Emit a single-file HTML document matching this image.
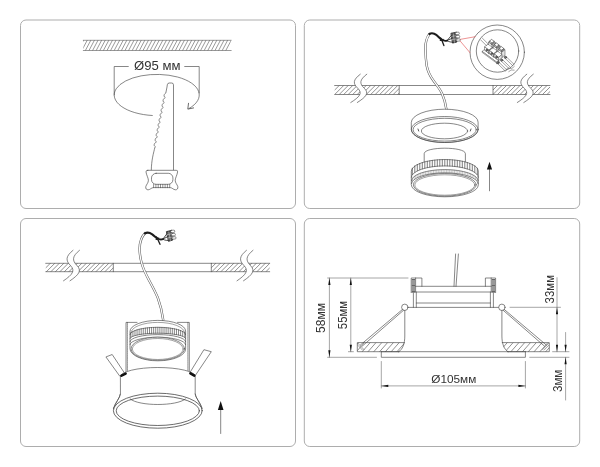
<!DOCTYPE html>
<html lang="ru"><head><meta charset="utf-8"><title>Схема монтажа</title>
<style>html,body{margin:0;padding:0;background:#fff}svg{display:block;will-change:transform}</style></head>
<body>
<svg width="600" height="467" viewBox="0 0 600 467">
<g fill="none" stroke="#adadad" stroke-width="1">
<rect x="20.5" y="20" width="275.0" height="188.5" rx="5.5" ry="5.5"/>
<rect x="304.3" y="20" width="275.40000000000003" height="188.5" rx="5.5" ry="5.5"/>
<rect x="20.5" y="218.5" width="275.0" height="228.0" rx="5.5" ry="5.5"/>
<rect x="304.3" y="218.5" width="275.40000000000003" height="228.0" rx="5.5" ry="5.5"/>
</g>
<defs>
<clipPath id="c1"><rect x="83.3" y="40.3" width="147.5" height="10.2"/></clipPath>
<clipPath id="c2a"><rect x="334.7" y="85.5" width="64.5" height="9"/></clipPath>
<clipPath id="c2b"><rect x="493" y="85.5" width="57" height="9"/></clipPath>
<clipPath id="c3a"><rect x="45.8" y="263.3" width="67.5" height="8.4"/></clipPath>
<clipPath id="c3b"><rect x="211.3" y="263.3" width="58.4" height="8.4"/></clipPath>
<clipPath id="c4a"><path d="M357.3,342.6H404.5C404,347 402,350 398.8,351.7H357.3Z"/></clipPath>
<clipPath id="c4b"><path d="M549.3,342.6H502.2C502.7,347 504.7,350 507.9,351.7H549.3Z"/></clipPath>
</defs>
<g fill="none" stroke="#464646" stroke-width="0.65" stroke-linecap="round" stroke-linejoin="round">
<path d="M83.3,40.3H231.2M83.3,50.5H231.2" stroke-width="0.6" stroke="#555"/>
<path clip-path="url(#c1)" d="M78.2,50.5L83.6,40.3M81.8,50.5L87.2,40.3M85.4,50.5L90.8,40.3M89.0,50.5L94.4,40.3M92.6,50.5L98.0,40.3M96.2,50.5L101.6,40.3M99.8,50.5L105.2,40.3M103.4,50.5L108.8,40.3M107.0,50.5L112.4,40.3M110.6,50.5L116.0,40.3M114.2,50.5L119.6,40.3M117.8,50.5L123.2,40.3M121.4,50.5L126.8,40.3M125.0,50.5L130.4,40.3M128.6,50.5L134.0,40.3M132.2,50.5L137.6,40.3M135.8,50.5L141.2,40.3M139.4,50.5L144.8,40.3M143.0,50.5L148.4,40.3M146.6,50.5L152.0,40.3M150.2,50.5L155.6,40.3M153.8,50.5L159.2,40.3M157.4,50.5L162.8,40.3M161.0,50.5L166.4,40.3M164.6,50.5L170.0,40.3M168.2,50.5L173.6,40.3M171.8,50.5L177.2,40.3M175.4,50.5L180.8,40.3M179.0,50.5L184.4,40.3M182.6,50.5L188.0,40.3M186.2,50.5L191.6,40.3M189.8,50.5L195.2,40.3M193.4,50.5L198.8,40.3M197.0,50.5L202.4,40.3M200.6,50.5L206.0,40.3M204.2,50.5L209.6,40.3M207.8,50.5L213.2,40.3M211.4,50.5L216.8,40.3M215.0,50.5L220.4,40.3M218.6,50.5L224.0,40.3M222.2,50.5L227.6,40.3M225.8,50.5L231.2,40.3" stroke-width="0.55"/>
<path d="M114.2,95V66.5H128.3M184.7,66.5H199.2V93"/>
<path d="M152.3,115.5A42.6,20.6 0 1 1 189.0,108.5"/>
<path d="M188.5,103.3L187.8,109.1L193.6,107.9" stroke-width="0.8"/>
<path fill="#fff" d="M173.5,170.3V84.8Q173.5,83 171.6,83H169.4Q167.5,83 167.3,84.8L167.0,87.0L165.8,93.0C163.9,94.2 163.3,96.3 165.3,97.5L164.8,97.9C162.9,99.1 162.3,101.3 164.3,102.5L163.8,102.9C161.9,104.1 161.3,106.2 163.3,107.4L162.8,107.8C160.9,109.0 160.3,111.1 162.3,112.3L161.8,112.7C159.9,113.9 159.3,116.0 161.3,117.2L160.8,117.6C158.9,118.8 158.3,121.0 160.3,122.2L159.8,122.6C157.9,123.8 157.4,125.9 159.4,127.1L158.9,127.5C157.0,128.7 156.4,130.8 158.4,132.0L157.9,132.4C156.0,133.6 155.4,135.7 157.4,136.9L156.9,137.3C155.0,138.5 154.4,140.7 156.4,141.9L155.9,142.3C154.0,143.5 153.4,145.6 155.4,146.8L154.9,147.2C153.6,153 151.4,160 151.3,170.3"/>
<path fill="#fff" d="M147.8,170.3H176.2Q177.9,170.3 177.6,171.9C177.1,175.2 175.5,177.4 175.2,180.2C175.2,183 177.2,184.4 177.8,186.6C178.2,188.7 177.1,189.9 175.4,189.8C173.2,189.6 172.4,187.8 170.3,187.6H153.3C151.2,187.8 150.4,189.6 148.2,189.8C146.5,189.9 145.4,188.7 145.8,186.6C146.4,184.4 148.4,183 148.4,180.2C148.1,177.4 146.5,175.2 146,171.9Q145.7,170.3 147.8,170.3Z"/>
<rect x="151.5" y="173.3" width="21.4" height="11" rx="4.6" ry="4.6"/>
<path d="M153.6,184.4V187.7M155.9,184.4V187.7M158.2,184.4V187.7M160.5,184.4V187.7M162.8,184.4V187.7M165.1,184.4V187.7M167.4,184.4V187.7M169.7,184.4V187.7" stroke-width="0.6"/>
<path d="M334.7,85.5H550M334.7,94.5H550M399.2,85.5V94.5M493,85.5V94.5"/>
<path clip-path="url(#c2a)" d="M325.7,94.5L334.7,85.5M330.2,94.5L339.2,85.5M334.7,94.5L343.7,85.5M339.2,94.5L348.2,85.5M343.7,94.5L352.7,85.5M348.2,94.5L357.2,85.5M352.7,94.5L361.7,85.5M357.2,94.5L366.2,85.5M361.7,94.5L370.7,85.5M366.2,94.5L375.2,85.5M370.7,94.5L379.7,85.5M375.2,94.5L384.2,85.5M379.7,94.5L388.7,85.5M384.2,94.5L393.2,85.5M388.7,94.5L397.7,85.5M393.2,94.5L402.2,85.5M397.7,94.5L406.7,85.5" stroke-width="0.6"/>
<path clip-path="url(#c2b)" d="M484.0,94.5L493.0,85.5M488.5,94.5L497.5,85.5M493.0,94.5L502.0,85.5M497.5,94.5L506.5,85.5M502.0,94.5L511.0,85.5M506.5,94.5L515.5,85.5M511.0,94.5L520.0,85.5M515.5,94.5L524.5,85.5M520.0,94.5L529.0,85.5M524.5,94.5L533.5,85.5M529.0,94.5L538.0,85.5M533.5,94.5L542.5,85.5M538.0,94.5L547.0,85.5M542.5,94.5L551.5,85.5M547.0,94.5L556.0,85.5" stroke-width="0.6"/>
<path d="M360.3,74.2C352.8,79.9 352.8,83.5 357.8,88.3C362.8,93.2 359.8,96.8 350.8,102.5L357.3,102.5C366.3,96.8 369.3,93.2 364.3,88.3C359.3,83.5 359.3,79.9 366.8,74.2Z" fill="#fff" stroke="none"/><path d="M360.3,74.2C352.8,79.9 352.8,83.5 357.8,88.3C362.8,93.2 359.8,96.8 350.8,102.5M366.8,74.2C359.3,79.9 359.3,83.5 364.3,88.3C369.3,93.2 366.3,96.8 357.3,102.5"/>
<path d="M526.8,74.2C519.3,79.9 519.3,83.5 524.3,88.3C529.3,93.2 526.3,96.8 517.3,102.5L523.8,102.5C532.8,96.8 535.8,93.2 530.8,88.3C525.8,83.5 525.8,79.9 533.3,74.2Z" fill="#fff" stroke="none"/><path d="M526.8,74.2C519.3,79.9 519.3,83.5 524.3,88.3C529.3,93.2 526.3,96.8 517.3,102.5M533.3,74.2C525.8,79.9 525.8,83.5 530.8,88.3C535.8,93.2 532.8,96.8 523.8,102.5"/>
<circle cx="497.2" cy="52.2" r="27.2" fill="#fff"/>
<circle cx="497.5" cy="51" r="21.2"/>
<path d="M459,39.6L475.3,36.7M459,39.6L470,52.7" stroke="#e35a5a" stroke-width="0.65"/>
<g stroke-width="0.5">
<path d="M480.6,39.8L486.4,45.6M482.4,38.2L488.4,44.2"/>
<path d="M486.4,45.6C487.6,46.6 489,45.6 488.4,44.2M487.6,45.4L492.6,47.6M486.4,46.4L489.4,49.6M488.6,44.6L495,46"/>
<path d="M482.40,51.60L497.04,62.43L499.07,60.83L484.44,50.01Z" fill="#fff"/><path d="M482.40,52.60L497.04,63.43L497.04,62.43L482.40,51.60Z" fill="#fff"/><path d="M497.04,63.43L499.07,61.83L499.07,60.83L497.04,62.43Z" fill="#e4e4e4"/>
<path d="M488.81,42.49L492.27,45.04L495.42,42.58L491.96,40.02Z" fill="#fff"/><path d="M488.81,47.89L492.27,50.44L492.27,45.04L488.81,42.49Z" fill="#fff"/><path d="M492.27,50.44L495.42,47.98L495.42,42.58L492.27,45.04Z" fill="#e4e4e4"/>
<path d="M489.66,41.35L492.06,43.13L494.28,41.39L491.88,39.61Z" fill="#fff"/><path d="M489.66,42.55L492.06,44.33L492.06,43.13L489.66,41.35Z" fill="#fff"/><path d="M492.06,44.33L494.28,42.59L494.28,41.39L492.06,43.13Z" fill="#999"/>
<path d="M484.82,47.09L488.95,50.14L492.46,47.39L488.33,44.33Z" fill="#fff"/><path d="M484.82,50.29L488.95,53.34L488.95,50.14L484.82,47.09Z" fill="#fff"/><path d="M488.95,53.34L492.46,50.59L492.46,47.39L488.95,50.14Z" fill="#e4e4e4"/>
<ellipse cx="486.88" cy="50.12" rx="1" ry="1.15" fill="#666" stroke="#333"/>
<path d="M493.61,46.04L497.07,48.59L500.22,46.13L496.76,43.57Z" fill="#fff"/><path d="M493.61,51.44L497.07,53.99L497.07,48.59L493.61,46.04Z" fill="#fff"/><path d="M497.07,53.99L500.22,51.53L500.22,46.13L497.07,48.59Z" fill="#e4e4e4"/>
<path d="M494.46,44.90L496.86,46.68L499.08,44.94L496.68,43.16Z" fill="#fff"/><path d="M494.46,46.10L496.86,47.88L496.86,46.68L494.46,44.90Z" fill="#fff"/><path d="M496.86,47.88L499.08,46.14L499.08,44.94L496.86,46.68Z" fill="#999"/>
<path d="M489.62,50.64L493.75,53.69L497.26,50.94L493.13,47.88Z" fill="#fff"/><path d="M489.62,53.84L493.75,56.89L493.75,53.69L489.62,50.64Z" fill="#fff"/><path d="M493.75,56.89L497.26,54.14L497.26,50.94L493.75,53.69Z" fill="#e4e4e4"/>
<ellipse cx="491.68" cy="53.67" rx="1" ry="1.15" fill="#666" stroke="#333"/>
<path d="M498.41,49.59L501.87,52.14L505.01,49.68L501.56,47.12Z" fill="#fff"/><path d="M498.41,54.99L501.87,57.54L501.87,52.14L498.41,49.59Z" fill="#fff"/><path d="M501.87,57.54L505.01,55.08L505.01,49.68L501.87,52.14Z" fill="#e4e4e4"/>
<path d="M499.26,48.45L501.66,50.23L503.88,48.49L501.48,46.71Z" fill="#fff"/><path d="M499.26,49.65L501.66,51.43L501.66,50.23L499.26,48.45Z" fill="#fff"/><path d="M501.66,51.43L503.88,49.69L503.88,48.49L501.66,50.23Z" fill="#999"/>
<path d="M494.42,54.19L498.55,57.24L502.06,54.49L497.93,51.43Z" fill="#fff"/><path d="M494.42,57.39L498.55,60.44L498.55,57.24L494.42,54.19Z" fill="#fff"/><path d="M498.55,60.44L502.06,57.69L502.06,54.49L498.55,57.24Z" fill="#e4e4e4"/>
<ellipse cx="496.48" cy="57.22" rx="1" ry="1.15" fill="#666" stroke="#333"/>
<path d="M497.6,63.6L505.20000000000005,71.0M499.1,62.4L506.70000000000005,69.8"/>
<ellipse cx="498.0" cy="62.7" rx="1.1" ry="1.2" fill="#777" stroke="#333"/>
<path d="M501.2,61.0L508.8,68.4M502.7,59.8L510.3,67.2"/>
<ellipse cx="501.59999999999997" cy="60.1" rx="1.1" ry="1.2" fill="#777" stroke="#333"/>
<path d="M505.0,58.2L512.6,65.60000000000001M506.5,57.0L514.1,64.4"/>
<ellipse cx="505.4" cy="57.300000000000004" rx="1.1" ry="1.2" fill="#777" stroke="#333"/>
<path d="M506,69.6l2.2,-1.6l3.4,0.6l2.6,-2M508.8,71.6l2.4,-1.6l3.6,0.2" stroke-dasharray="1.4 0.8"/>
</g>
<path d="M429.4,34C426.5,38 425.3,43 425.4,48.5C425.5,55 425.8,60 426.7,65.7C427.8,71.5 430,76 433.5,80.7C437,85.5 440,89 442,93.5C444,98 445.5,103 446.4,109.3" stroke-width="2.35" stroke="#585858"/>
<path d="M429.4,34C426.5,38 425.3,43 425.4,48.5C425.5,55 425.8,60 426.7,65.7C427.8,71.5 430,76 433.5,80.7C437,85.5 440,89 442,93.5C444,98 445.5,103 446.4,109.3" stroke-width="1.3" stroke="#fff"/>
<g transform="translate(429.1,33.8) rotate(0)" stroke="#1c1c1c"><path d="M0.3,0.2C2.6,-1.2 5.2,-0.4 7.6,1.4C9.8,3.2 10.8,4.8 12.4,5.8" stroke-width="2.1"/><path d="M11.6,4.2L13.2,7.6L14.8,11.8M11.2,6.6L14,5.6" stroke-width="1.3"/><path d="M12.4,5.8C14.6,7.2 16.6,7.2 18,6.8" stroke-width="1.8"/><path d="M18,6.8L22.6,1.2M18,6.6L23,4.6M18,7C20.5,8.4 23,8.6 25.4,8.2" stroke-width="0.8"/><path d="M22.2,-0.6L26.6,-1.4L27.8,8.2L23.8,9.2Z" fill="#555" stroke-width="0.8"/><rect x="26.20" y="-1.60" width="4" height="2.3" rx="0.9" fill="#fff" stroke-width="0.6" stroke="#444"/><rect x="26.65" y="1.70" width="4" height="2.3" rx="0.9" fill="#fff" stroke-width="0.6" stroke="#444"/><rect x="27.10" y="5.00" width="4" height="2.3" rx="0.9" fill="#fff" stroke-width="0.6" stroke="#444"/><path d="M24.2,0L25.4,8.6M22.6,2.6L27,1.9M23,5.8L27.4,5.1" stroke="#ddd" stroke-width="0.5"/></g>
<path fill="#fff" d="M411.3,122.2A33.4,13 0 0 1 478.09999999999997,122.2V129.5A33.4,13 0 0 1 411.3,129.5Z"/>
<ellipse cx="444.7" cy="129.5" rx="33.4" ry="13"/>
<ellipse cx="444.7" cy="129.7" rx="31.6" ry="11.4"/>
<ellipse cx="444.5" cy="131" rx="23.1" ry="7.8"/>
<path d="M418,129l0.7,2M471,129l-0.7,2" stroke-width="0.9"/>
<path fill="#fff" d="M424.2,162V153.6C424.6,146.4 465,146.4 465.4,153.6V162"/>
<path fill="#fff" d="M411.3,171A33.5,11.5 0 0 1 478.3,171V185A33.5,11.8 0 0 1 411.3,185Z"/>
<path d="M411.3,177.3A33.5,11.4 0 0 1 478.3,177.3"/>
<path stroke-width="0.7" d="M412.31,168.23V174.53M414.80,165.92V172.22M417.30,164.49V170.79M419.80,163.41V169.71M422.30,162.55V168.85M424.80,161.85V168.15M427.30,161.28V167.58M429.80,160.81V167.11M432.30,160.42V166.72M434.80,160.12V166.42M437.30,159.89V166.19M439.80,159.73V166.03M442.30,159.63V165.93M444.80,159.60V165.90M447.30,159.63V165.93M449.80,159.73V166.03M452.30,159.89V166.19M454.80,160.12V166.42M457.30,160.42V166.72M459.80,160.81V167.11M462.30,161.28V167.58M464.80,161.85V168.15M467.30,162.55V168.85M469.80,163.41V169.71M472.30,164.49V170.79M474.80,165.92V172.22M477.30,168.23V174.53"/>
<path d="M411.5,180.6A33.3,11 0 0 1 478.1,180.6"/>
<path d="M411.5,183.6A33.3,10.8 0 0 1 478.1,183.6"/>
<path stroke-width="0.4" stroke="#777" d="M412.50,177.95V180.95M414.11,176.37V179.37M415.73,175.28V178.28M417.34,174.43V177.43M418.96,173.73V176.73M420.57,173.12V176.12M422.19,172.60V175.60M423.80,172.14V175.14M425.42,171.74V174.74M427.03,171.38V174.38M428.65,171.07V174.07M430.26,170.79V173.79M431.88,170.55V173.55M433.49,170.35V173.35M435.11,170.17V173.17M436.72,170.03V173.03M438.34,169.91V172.91M439.95,169.82V172.82M441.57,169.75V172.75M443.18,169.71V172.71M444.80,169.70V172.70M446.42,169.71V172.71M448.03,169.75V172.75M449.65,169.82V172.82M451.26,169.91V172.91M452.88,170.03V173.03M454.49,170.17V173.17M456.11,170.35V173.35M457.72,170.55V173.55M459.34,170.79V173.79M460.95,171.07V174.07M462.57,171.38V174.38M464.18,171.74V174.74M465.80,172.14V175.14M467.41,172.60V175.60M469.03,173.12V176.12M470.64,173.73V176.73M472.26,174.43V177.43M473.87,175.28V178.28M475.49,176.37V179.37M477.10,177.95V180.95"/>
<ellipse cx="444.8" cy="184.8" rx="31.4" ry="11.3" fill="#fff"/>
<ellipse cx="444.8" cy="185" rx="30" ry="10.2" stroke-width="0.5"/>
<path d="M489.5,169.4V190.8"/><path d="M489.5,161.7L486.9,169.4H492.1Z" fill="#111" stroke="none"/>
<path d="M45.8,263.3H269.7M45.8,271.7H269.7M113.3,263.3V271.7M211.3,263.3V271.7"/>
<path clip-path="url(#c3a)" d="M37.4,271.7L45.8,263.3M41.9,271.7L50.3,263.3M46.4,271.7L54.8,263.3M50.9,271.7L59.3,263.3M55.4,271.7L63.8,263.3M59.9,271.7L68.3,263.3M64.4,271.7L72.8,263.3M68.9,271.7L77.3,263.3M73.4,271.7L81.8,263.3M77.9,271.7L86.3,263.3M82.4,271.7L90.8,263.3M86.9,271.7L95.3,263.3M91.4,271.7L99.8,263.3M95.9,271.7L104.3,263.3M100.4,271.7L108.8,263.3M104.9,271.7L113.3,263.3M109.4,271.7L117.8,263.3" stroke-width="0.6"/>
<path clip-path="url(#c3b)" d="M202.9,271.7L211.3,263.3M207.4,271.7L215.8,263.3M211.9,271.7L220.3,263.3M216.4,271.7L224.8,263.3M220.9,271.7L229.3,263.3M225.4,271.7L233.8,263.3M229.9,271.7L238.3,263.3M234.4,271.7L242.8,263.3M238.9,271.7L247.3,263.3M243.4,271.7L251.8,263.3M247.9,271.7L256.3,263.3M252.4,271.7L260.8,263.3M256.9,271.7L265.3,263.3M261.4,271.7L269.8,263.3M265.9,271.7L274.3,263.3" stroke-width="0.6"/>
<path d="M73.0,250.3C65.5,256.4 65.5,260.4 70.5,265.6C75.5,270.7 72.5,274.7 63.5,280.8L70.0,280.8C79.0,274.7 82.0,270.7 77.0,265.6C72.0,260.4 72.0,256.4 79.5,250.3Z" fill="#fff" stroke="none"/><path d="M73.0,250.3C65.5,256.4 65.5,260.4 70.5,265.6C75.5,270.7 72.5,274.7 63.5,280.8M79.5,250.3C72.0,256.4 72.0,260.4 77.0,265.6C82.0,270.7 79.0,274.7 70.0,280.8"/>
<path d="M246.5,250.3C239.0,256.4 239.0,260.4 244.0,265.6C249.0,270.7 246.0,274.7 237.0,280.8L243.5,280.8C252.5,274.7 255.5,270.7 250.5,265.6C245.5,260.4 245.5,256.4 253.0,250.3Z" fill="#fff" stroke="none"/><path d="M246.5,250.3C239.0,256.4 239.0,260.4 244.0,265.6C249.0,270.7 246.0,274.7 237.0,280.8M253.0,250.3C245.5,256.4 245.5,260.4 250.5,265.6C255.5,270.7 252.5,274.7 243.5,280.8"/>
<path d="M145,233.1C141.5,237 139.7,242 139.6,248.5C139.6,254 140.5,259 141.8,263.5C143.5,270 146.5,275.5 149.3,280.7C152.5,286.5 155.5,292 157.8,297.8C160.3,304.5 162,311 163.2,320" stroke-width="2.35" stroke="#585858"/>
<path d="M145,233.1C141.5,237 139.7,242 139.6,248.5C139.6,254 140.5,259 141.8,263.5C143.5,270 146.5,275.5 149.3,280.7C152.5,286.5 155.5,292 157.8,297.8C160.3,304.5 162,311 163.2,320" stroke-width="1.3" stroke="#fff"/>
<g transform="translate(144.6,233.3) rotate(-3)" stroke="#1c1c1c"><path d="M0.3,0.2C2.6,-1.2 5.2,-0.4 7.6,1.4C9.8,3.2 10.8,4.8 12.4,5.8" stroke-width="2.1"/><path d="M11.6,4.2L13.2,7.6L14.8,11.8M11.2,6.6L14,5.6" stroke-width="1.3"/><path d="M12.4,5.8C14.6,7.2 16.6,7.2 18,6.8" stroke-width="1.8"/><path d="M18,6.8L22.6,1.2M18,6.6L23,4.6M18,7C20.5,8.4 23,8.6 25.4,8.2" stroke-width="0.8"/><path d="M22.2,-0.6L26.6,-1.4L27.8,8.2L23.8,9.2Z" fill="#555" stroke-width="0.8"/><rect x="26.20" y="-1.60" width="4" height="2.3" rx="0.9" fill="#fff" stroke-width="0.6" stroke="#444"/><rect x="26.65" y="1.70" width="4" height="2.3" rx="0.9" fill="#fff" stroke-width="0.6" stroke="#444"/><rect x="27.10" y="5.00" width="4" height="2.3" rx="0.9" fill="#fff" stroke-width="0.6" stroke="#444"/><path d="M24.2,0L25.4,8.6M22.6,2.6L27,1.9M23,5.8L27.4,5.1" stroke="#ddd" stroke-width="0.5"/></g>
<path d="M126,372V322.4H137M189.3,372V322.4H177.5"/>
<path d="M127.4,372V322.4M187.9,372V322.4" stroke-dasharray="1 0.8" stroke-width="0.6"/>
<path fill="#fff" d="M130.0,331A27.8,10.6 0 0 1 185.60000000000002,331V349A27.8,11.8 0 0 1 130.0,349Z"/>
<path d="M131.0,332.6A26.8,10.2 0 0 1 184.60000000000002,332.6" stroke-width="0.5"/>
<path d="M130.0,334.5A27.8,7.2 0 0 1 185.60000000000002,334.5"/>
<path d="M130.0,338.4A27.8,5.2 0 0 1 185.60000000000002,338.4"/>
<path stroke-width="0.65" d="M130.83,332.75V337.14M132.91,331.29V336.08M134.98,330.39V335.43M137.06,329.71V334.94M139.13,329.17V334.55M141.21,328.72V334.23M143.28,328.36V333.97M145.35,328.06V333.75M147.43,327.82V333.58M149.50,327.63V333.44M151.58,327.48V333.33M153.65,327.38V333.26M155.73,327.32V333.21M157.80,327.30V333.20M159.87,327.32V333.21M161.95,327.38V333.26M164.02,327.48V333.33M166.10,327.63V333.44M168.17,327.82V333.58M170.25,328.06V333.75M172.32,328.36V333.97M174.39,328.72V334.23M176.47,329.17V334.55M178.54,329.71V334.94M180.62,330.39V335.43M182.69,331.29V336.08M184.77,332.75V337.14"/>
<path d="M130.0,341.6A27.8,7 0 0 1 185.60000000000002,341.6"/>
<path d="M130.0,344.6A27.8,7.4 0 0 1 185.60000000000002,344.6"/>
<ellipse cx="157.8" cy="348.8" rx="26.7" ry="11.6" fill="#fff"/>
<ellipse cx="157.8" cy="349" rx="25.4" ry="10.5" stroke-width="0.5"/>
<path fill="#fff" d="M106.3,356.8L112.2,354.5L125,373.8L120.3,376.2Z"/>
<path fill="#fff" d="M204.3,349.8L211.3,351.7L195.5,375.2L190.3,372.7Z"/>
<path fill="#fff" d="M120.4,376.4A37.4,8.9 0 0 1 195.2,376.4V394C195.6,398 200,402 202.2,409H113.4C115.6,402 120,398 120.4,394Z" />
<path d="M121.5,375.6L125.6,373.6M194.3,375.6L190.4,373.4" stroke="#111" stroke-width="2.6"/>
<ellipse cx="157.8" cy="410.7" rx="44.4" ry="17.5" fill="#fff" stroke-width="0.8"/>
<path d="M120.4,394C120,398 115.6,402 113.6,408M195.2,394C195.6,398 200,402 202,408"/>
<ellipse cx="157.8" cy="410.8" rx="41.6" ry="14.7" stroke-width="0.8"/>
<path d="M130.2,399C139,406.4 176.6,406.4 185.4,399"/>
<path d="M220.7,409.9V433.5"/><path d="M220.7,401.1L217.89999999999998,409.9H223.5Z" fill="#111" stroke="none"/>
<g stroke-width="0.55" stroke="#5c5c5c">
<path d="M327.6,278H408M327.6,357.3H376.5M348.4,351.7H353.4M510,307.3H560.5M552.6,351.7H569M529.7,357.3H569"/>
<path d="M329.4,278V357.3M350.8,278V351.7M557,277.7V351.7M565.6,332.5V351.7M565.6,357.3V400"/>
<path d="M381.3,361.5V388M525.4,361.5V388M381.3,385.9H525.4"/>
</g>
<path d="M329.4,278L328.29999999999995,285H330.5ZM329.4,357.3L328.29999999999995,350.3H330.5ZM350.8,278L349.7,285H351.90000000000003ZM350.8,351.7L349.7,344.7H351.90000000000003ZM557,307.3L555.9,314.3H558.1ZM557,351.7L555.9,344.7H558.1ZM565.6,351.7L564.5,344.7H566.7ZM565.6,357.3L564.5,364.3H566.7ZM381.3,385.9L388.3,384.79999999999995V387.0ZM525.4,385.9L518.4,384.79999999999995V387.0Z" fill="#111" stroke="none"/>
<path d="M455.6,254L454,286.3M458.4,254L456,286.3"/>
<path d="M411.2,292.6V278H421.9V286.3M495.6,292.6V278H485.4V286.3"/>
<path d="M415.6,278V292M491.2,278V292"/>
<path d="M413.4,279V293M493.4,279V293" stroke="#333" stroke-width="3.4" stroke-dasharray="0.65 0.55" stroke-linecap="butt"/>
<path d="M415.6,286.3H491.2M415.6,292H491.2M416.3,303H490.4M408,307.4H498.8"/>
<path d="M413.4,293V307.4M416.3,292V307.4M490.4,292V307.4M493.4,293V307.4"/>
<circle cx="404.8" cy="307.3" r="3.2" fill="#fff"/><circle cx="501.9" cy="307.3" r="3.2" fill="#fff"/>
<path d="M404.8,310.5V336C404.8,344 402.5,349.5 398.8,351.7M501.9,310.5V336C501.9,344 504.2,349.5 507.9,351.7"/>
<path d="M402.4,309.5L360.4,345M403.4,310.4L362.4,346M504.3,309.5L546.3,345M503.3,310.4L544.3,346"/>
<path d="M404.5,342.6H357.3V351.7H398.8M502.2,342.6H549.3V351.7H507.9"/>
<path clip-path="url(#c4a)" d="M350.6,351.7L358.6,342.6M356.4,351.7L364.4,342.6M362.2,351.7L370.2,342.6M368.0,351.7L376.0,342.6M373.8,351.7L381.8,342.6M379.6,351.7L387.6,342.6M385.4,351.7L393.4,342.6M391.2,351.7L399.2,342.6M397.0,351.7L405.0,342.6M402.8,351.7L410.8,342.6" stroke-width="0.6"/>
<path clip-path="url(#c4b)" d="M493.5,351.7L501.5,342.6M499.3,351.7L507.3,342.6M505.1,351.7L513.1,342.6M510.9,351.7L518.9,342.6M516.7,351.7L524.7,342.6M522.5,351.7L530.5,342.6M528.3,351.7L536.3,342.6M534.1,351.7L542.1,342.6M539.9,351.7L547.9,342.6M545.7,351.7L553.7,342.6" stroke-width="0.6"/>
<path d="M358,343.4L364,349.6M358,345.4L362.4,350M548.6,343.4L542.6,349.6M548.6,345.4L544.2,350" stroke-width="0.5"/>
<path d="M398.8,351.7H507.9M381.3,351.7V357.3H525.4V351.7M381.3,351.7H398.8M507.9,351.7H525.4"/>
</g>
<text x="134" y="70.2" font-size="12.4" textLength="46.5" lengthAdjust="spacingAndGlyphs" font-family="Liberation Sans, sans-serif" fill="#333">Ø95 мм</text>
<text x="431.3" y="382.6" font-size="10.6" textLength="45" lengthAdjust="spacingAndGlyphs" font-family="Liberation Sans, sans-serif" fill="#333">Ø105мм</text>
<text transform="translate(325.2,333) rotate(-90)" font-size="13" textLength="30" lengthAdjust="spacingAndGlyphs" font-family="Liberation Sans, sans-serif" fill="#333">58мм</text>
<text transform="translate(346.5,329.2) rotate(-90)" font-size="13" textLength="28.4" lengthAdjust="spacingAndGlyphs" font-family="Liberation Sans, sans-serif" fill="#333">55мм</text>
<text transform="translate(554.4,303.4) rotate(-90)" font-size="13" textLength="28.4" lengthAdjust="spacingAndGlyphs" font-family="Liberation Sans, sans-serif" fill="#333">33мм</text>
<text transform="translate(562.4,392) rotate(-90)" font-size="13" textLength="22.3" lengthAdjust="spacingAndGlyphs" font-family="Liberation Sans, sans-serif" fill="#333">3мм</text>
</svg>
</body></html>
